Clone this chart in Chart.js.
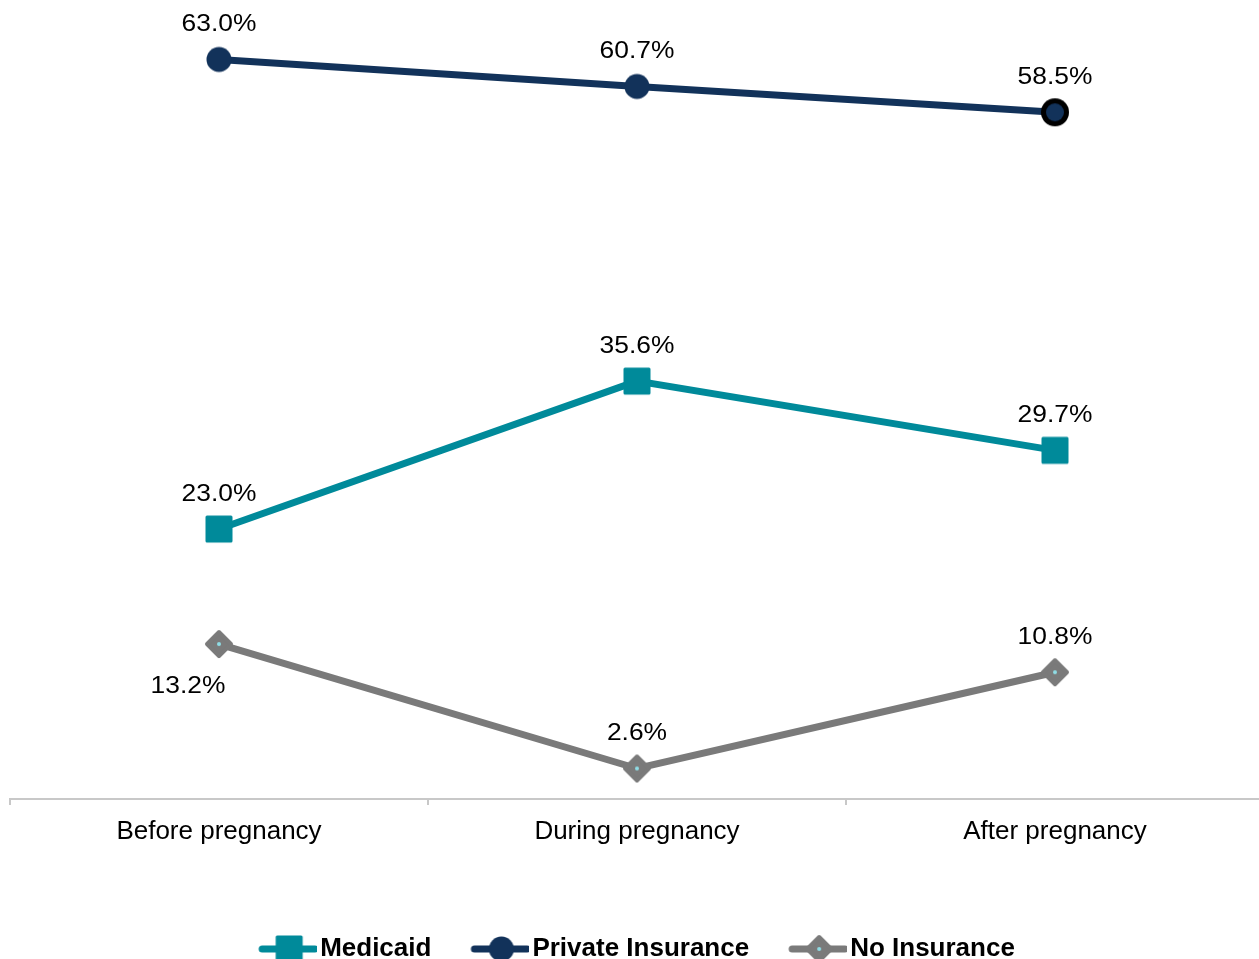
<!DOCTYPE html>
<html lang="en">
<head>
<meta charset="UTF-8">
<title>Insurance coverage around pregnancy</title>
<style>
    body { margin: 0; padding: 0; background: #fff; overflow: hidden; }
    #wrap { width: 1264px; height: 972px; position: relative; }
</style>
</head>
<body>
<div id="wrap"><canvas id="chart"></canvas></div>

<script src="https://cdn.jsdelivr.net/npm/chart.js"></script>
<script>
// data
const periods = ['Before pregnancy', 'During pregnancy', 'After pregnancy'];
const medicaid = [23.0, 35.6, 29.7];
const privateIns = [63.0, 60.7, 58.5];
const noIns = [13.2, 2.6, 10.8];

const TEAL = '#008a9a';
const NAVY = '#12325a';
const GRAY = '#7a7a7a';
const FONT = '"Liberation Sans", Arial, sans-serif';

// marker pictures, used for the points and the legend
function marker(kind, color, ring) {
    const c = document.createElement('canvas');
    const s = 30;
    c.width = s; c.height = s;
    const g = c.getContext('2d');
    g.fillStyle = color;
    if (kind === 'square') {
        g.strokeStyle = color; g.lineWidth = 3; g.lineJoin = 'round';
        g.fillRect(3, 3, 24, 24);
        g.strokeRect(3, 3, 24, 24);
    } else if (kind === 'circle') {
        g.beginPath(); g.arc(15, 15, ring ? 14 : 12.5, 0, Math.PI * 2);
        g.fillStyle = ring ? '#000' : color; g.fill();
        if (ring) {
            g.beginPath(); g.arc(15, 15, 9, 0, Math.PI * 2);
            g.fillStyle = color; g.fill();
        }
    } else {
        g.strokeStyle = color; g.lineWidth = 4; g.lineJoin = 'round';
        g.beginPath();
        g.moveTo(15, 3); g.lineTo(27, 15); g.lineTo(15, 27); g.lineTo(3, 15); g.closePath();
        g.fill(); g.stroke();
        g.beginPath(); g.arc(15, 15, 2, 0, Math.PI * 2);
        g.fillStyle = '#8fdde6'; g.fill();
    }
    return c;
}

function legendIcon(kind, color) {
    const c = document.createElement('canvas');
    c.width = 68; c.height = 30;
    const g = c.getContext('2d');
    g.strokeStyle = color; g.lineWidth = 7; g.lineCap = 'round';
    g.beginPath(); g.moveTo(13, 15); g.lineTo(66, 15); g.stroke();
    g.drawImage(marker(kind, color), 25, 0);
    return c;
}

const sq = marker('square', TEAL);
const dot = marker('circle', NAVY);
const dotRing = marker('circle', NAVY, true);
const dia = marker('diamond', GRAY);
const icons = [legendIcon('square', TEAL), legendIcon('circle', NAVY), legendIcon('diamond', GRAY)];

// value labels drawn next to each point (text in the picture is a little wide)
const valueLabels = {
    id: 'valueLabels',
    afterDatasetsDraw(chart) {
        const ctx = chart.ctx;
        chart.data.datasets.forEach((ds, i) => {
            chart.getDatasetMeta(i).data.forEach((pt, j) => {
                const txt = ds.data[j].toFixed(1) + '%';
                let x = pt.x, y = pt.y - 35;
                if (ds.labelSide && ds.labelSide[j] === 'below') {
                    x = pt.x - 31; y = pt.y + 42;
                }
                ctx.save();
                ctx.translate(x, y);
                ctx.scale(1.1, 1);
                ctx.font = '24px ' + FONT;
                ctx.fillStyle = '#000';
                ctx.textAlign = 'center';
                ctx.textBaseline = 'middle';
                ctx.fillText(txt, 0, 0);
                ctx.restore();
            });
        });
    }
};

new Chart(document.getElementById('chart'), {
    type: 'line',
    data: {
        labels: periods,
        datasets: [{
            label: 'Medicaid',
            data: medicaid,
            borderColor: TEAL,
            borderWidth: 7,
            pointStyle: sq,
            labelSide: ['above', 'above', 'above']
        }, {
            label: 'Private Insurance',
            data: privateIns,
            borderColor: NAVY,
            borderWidth: 7,
            pointStyle: [dot, dot, dotRing],
            labelSide: ['above', 'above', 'above']
        }, {
            label: 'No Insurance',
            data: noIns,
            borderColor: GRAY,
            borderWidth: 7,
            pointStyle: dia,
            labelSide: ['below', 'above', 'above']
        }]
    },
    options: {
        responsive: true,
        maintainAspectRatio: false,
        animation: false,
        layout: { autoPadding: false, padding: { left: 10, right: 0, top: 36, bottom: 0 } },
        scales: {
            x: {
                offset: true,
                afterFit(scale) { scale.height = 97; },
                grid: { offset: true, drawOnChartArea: false, drawTicks: true, tickLength: 6, color: '#c8c8c8', lineWidth: 2 },
                border: { color: '#c8c8c8', width: 2 },
                ticks: { color: '#000', padding: 11, font: { size: 26, family: FONT } }
            },
            y: { display: false, min: 0, max: 65 }
        },
        plugins: {
            tooltip: { enabled: false },
            legend: {
                position: 'bottom',
                labels: {
                    usePointStyle: true,
                    pointStyleWidth: 48,
                    padding: 40,
                    color: '#000',
                    font: { size: 26, weight: 'bold', family: FONT },
                    generateLabels(chart) {
                        const items = Chart.defaults.plugins.legend.labels.generateLabels(chart);
                        items.forEach((it, k) => { it.pointStyle = icons[k]; });
                        return items;
                    }
                }
            }
        }
    },
    plugins: [valueLabels]
});
</script>
</body>
</html>
